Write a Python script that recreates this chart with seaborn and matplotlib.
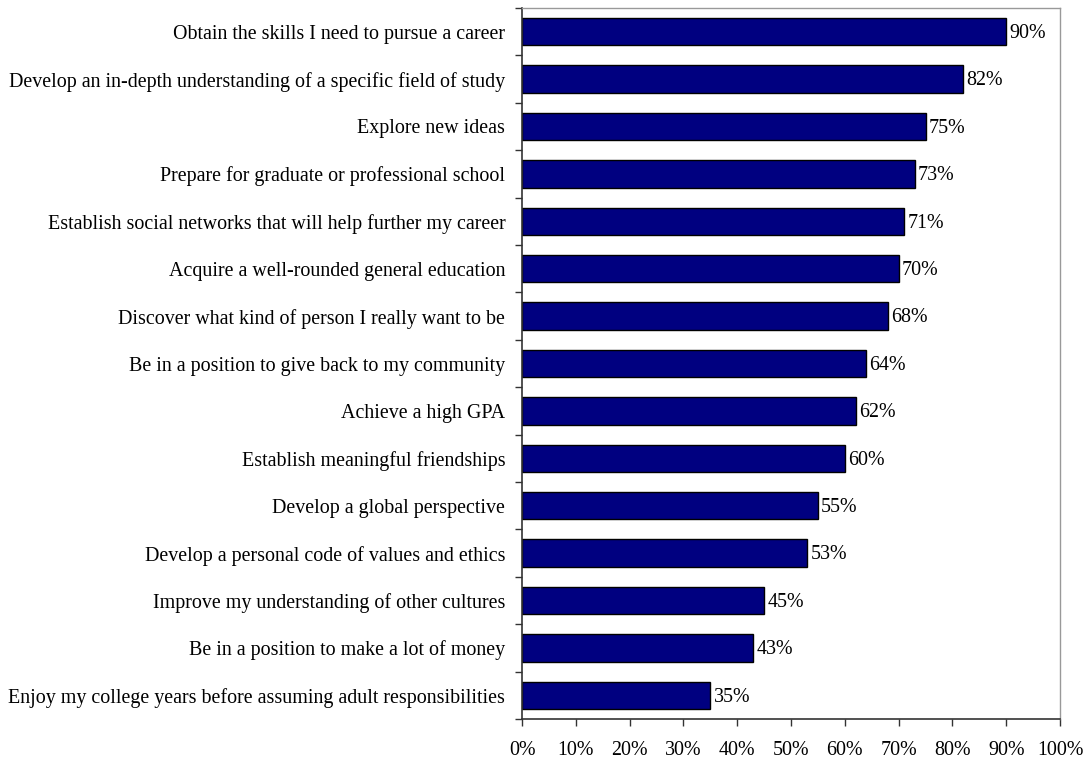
import matplotlib
matplotlib.use("Agg")
import matplotlib.pyplot as plt
import seaborn as sns
import pandas as pd
import numpy as np

goals = [
    "Obtain the skills I need to pursue a career",
    "Develop an in-depth understanding of a specific field of study",
    "Explore new ideas",
    "Prepare for graduate or professional school",
    "Establish social networks that will help further my career",
    "Acquire a well-rounded general education",
    "Discover what kind of person I really want to be",
    "Be in a position to give back to my community",
    "Achieve a high GPA",
    "Establish meaningful friendships",
    "Develop a global perspective",
    "Develop a personal code of values and ethics",
    "Improve my understanding of other cultures",
    "Be in a position to make a lot of money",
    "Enjoy my college years before assuming adult responsibilities",
]
shares = [90, 82, 75, 73, 71, 70, 68, 64, 62, 60, 55, 53, 45, 43, 35]
x_ticks = [0, 10, 20, 30, 40, 50, 60, 70, 80, 90, 100]

sns.set_theme(style="white")
plt.rcParams["font.family"] = ["Liberation Serif", "DejaVu Serif"]
plt.rcParams["text.color"] = "black"
plt.rcParams["xtick.color"] = "black"
plt.rcParams["ytick.color"] = "black"

FS = 14.4

df = pd.DataFrame({"goal": goals, "share": shares})

fig = plt.figure(figsize=(10.86, 7.59), dpi=100)
ax = fig.add_axes([522 / 1086, 1 - 719 / 759, (1060 - 522) / 1086, (719 - 8) / 759])

sns.barplot(data=df, x="share", y="goal", orient="h", color="#000080",
            saturation=1, edgecolor="black", linewidth=1.0, width=0.58, ax=ax)

for patch, val in zip(ax.patches, shares):
    ax.text(patch.get_width() + 0.6, patch.get_y() + patch.get_height() / 2 + 0.04,
            f"{val}%", va="center", ha="left", fontsize=FS, color="black")

ax.set_xlim(0, 100)
ax.set_ylim(len(goals) - 0.5, -0.5)
ax.set_xticks(x_ticks)
ax.set_xticklabels([f"{t}%" for t in x_ticks], fontsize=FS)
ax.set_yticklabels(goals, fontsize=FS)
ax.set_xlabel("")
ax.set_ylabel("")

# category separators as outward ticks on the value axis
ax.set_yticks(np.arange(-0.5, len(goals) + 0.5, 1), minor=True)
ax.tick_params(axis="y", which="major", length=0, pad=12)
ax.tick_params(axis="y", which="minor", length=5, width=1, color="#333333", direction="out", left=True)
ax.tick_params(axis="x", which="major", length=5, width=1, color="#333333", direction="out", bottom=True, pad=11)

for side in ["left", "bottom"]:
    ax.spines[side].set_color("#333333")
    ax.spines[side].set_linewidth(1.2)
for side in ["top", "right"]:
    ax.spines[side].set_color("#999999")
    ax.spines[side].set_linewidth(1.0)
    ax.spines[side].set_visible(True)

fig.savefig("out.png", dpi=100, facecolor="white")
